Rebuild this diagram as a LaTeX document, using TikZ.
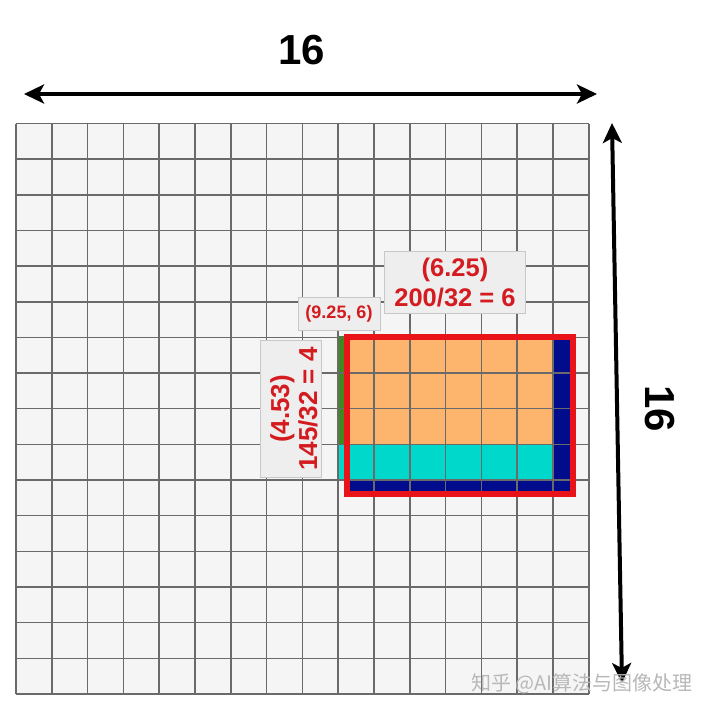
\documentclass[tikz,border=0pt]{standalone}
\usepackage{fontspec}
\setmainfont{Liberation Sans}
\newfontfamily\cjkfont{Noto Sans CJK SC}
\usetikzlibrary{arrows.meta}
\definecolor{gridfill}{HTML}{F5F5F5}
\definecolor{gridline}{HTML}{6A6A6A}
\definecolor{orangefill}{HTML}{FDB46C}
\definecolor{cyanfill}{HTML}{00D8CC}
\definecolor{navyfill}{HTML}{000C8C}
\definecolor{greenfill}{HTML}{3F8A1F}
\definecolor{redline}{HTML}{E8141A}
\definecolor{labelred}{HTML}{D41C20}
\definecolor{boxfill}{HTML}{EEEEEE}
\definecolor{boxline}{HTML}{C8C8C8}
\definecolor{wmark}{HTML}{B8B8B8}
\begin{document}
\begin{tikzpicture}[x=1pt,y=-1pt,
  dimarrow/.style={line width=4pt, {Stealth[length=20pt,width=19pt,inset=5pt]}-{Stealth[length=20pt,width=19pt,inset=5pt]}},
  dimtext/.style={font=\fontsize{42}{42}\selectfont\bfseries, inner sep=0pt},
  labelbox/.style={draw=boxline, line width=0.8pt, fill=boxfill, text=labelred, inner sep=0pt, align=center},
  bigtext/.style={font=\fontsize{25.5}{29.5}\selectfont\bfseries},
  vtext/.style={font=\fontsize{26}{28}\selectfont\bfseries},
  smalltext/.style={font=\fontsize{18}{18}\selectfont\bfseries}]
\useasboundingbox (0,0) rectangle (720,715);
\fill[white] (0,0) rectangle (720,715);
% grid
\begin{scope}[shift={(16pt,-123.5pt)}, x=35.8pt, y=-35.65pt]
  \fill[gridfill] (0,0) rectangle (16,16);
  \fill[greenfill] (9,5.95) rectangle (9.25,9);
  \fill[orangefill] (9.25,6) rectangle (15,9);
  \fill[cyanfill] (9,9) rectangle (15,10);
  \fill[navyfill] (15,6) rectangle (15.55,10.4);
  \fill[navyfill] (9.25,10) rectangle (15,10.4);
  \foreach \i in {0,...,16} {
    \draw[gridline, line width=1.5pt] (\i,0) -- (\i,16);
    \draw[gridline, line width=1.5pt] (0,\i) -- (16,\i);
  }
  \draw[redline, line width=6pt] (9.25,6) rectangle (15.55,10.4);
\end{scope}
% dimension arrows
\coordinate (tl) at (24,94);
\coordinate (tr) at (597,94);
\coordinate (rt) at (612,123);
\coordinate (rb) at (622,683);
\draw[dimarrow] (tl) -- (tr);
\draw[dimarrow] (rt) -- (rb);
\node[dimtext] (wlabel) at (301.5,50) {16};
\node[dimtext, rotate=-90] (hlabel) at (660,409) {16};
% labels
\node[labelbox, bigtext, minimum width=141.5pt, minimum height=61.5pt] (wbox) at (455,282.5) {(6.25)\\200/32 = 6};
\node[labelbox, smalltext, minimum width=82pt, minimum height=33pt] (pbox) at (339,313.5) {(9.25, 6)};
\node[labelbox, minimum width=137pt, minimum height=61pt, rotate=90] (hbox) at (290.5,408.5) {};
\node[vtext, text=labelred, align=center, rotate=90, inner sep=0pt] (htext) at (294,409) {(4.53)\\145/32 = 4};
% watermark
\node[text=wmark, font=\cjkfont\fontsize{20}{20}\selectfont, inner sep=0pt] (wm) at (582,684) {知乎 @AI算法与图像处理};
\end{tikzpicture}
\end{document}
